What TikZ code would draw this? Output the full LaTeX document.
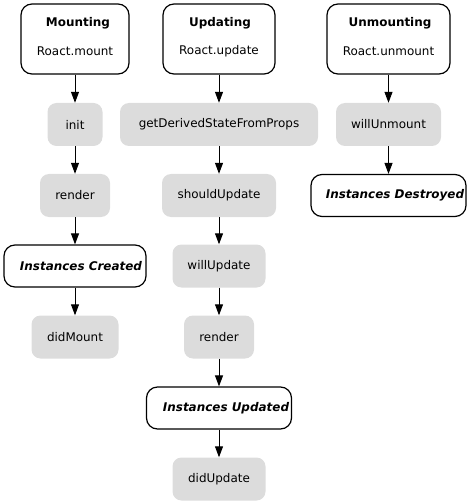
\documentclass[tikz,border=0pt]{standalone}
\usepackage{fontspec}
\setmainfont{DejaVu Sans}
\usetikzlibrary{arrows.meta}
\definecolor{boxgray}{HTML}{DCDCDC}
\tikzset{
  head/.style={draw=black, line width=1.2bp, fill=white, rounded corners=11bp, minimum height=70bp, inner sep=0pt},
  term/.style={draw=black, line width=1.2bp, fill=white, rounded corners=11bp, minimum height=42bp, inner sep=0pt},
  stepbox/.style={fill=boxgray, rounded corners=9bp, minimum height=43bp, inner sep=0pt, font=\fontsize{12}{14}\selectfont},
  titletext/.style={font=\fontsize{12}{14}\selectfont\bfseries, inner sep=0pt},
  subtext/.style={font=\fontsize{12}{14}\selectfont, inner sep=0pt},
  termtext/.style={font=\fontsize{12}{14}\selectfont\bfseries\itshape, inner sep=0pt},
  conn/.style={draw=black, line width=1bp, -{Triangle[length=11bp,width=8bp]}}
}
\begin{document}
\begin{tikzpicture}[x=1bp,y=-1bp]
\useasboundingbox (0,0) rectangle (470,504);
% headers
\node[head, minimum width=108bp] (mount) at (75,39) {};
\node[titletext] (mountt) at (78,23) {Mounting};
\node[subtext] (mounts) at (75,51) {Roact.mount};
\node[head, minimum width=112bp] (update) at (219,39) {};
\node[titletext] (updatet) at (220,23) {Updating};
\node[subtext] (updates) at (219,51) {Roact.update};
\node[head, minimum width=123bp] (unmount) at (388.5,39) {};
\node[titletext] (unmountt) at (390,23) {Unmounting};
\node[subtext] (unmounts) at (388.5,51) {Roact.unmount};
% mounting column
\node[stepbox, minimum width=55bp] (init) at (75,124.5) {init};
\node[stepbox, minimum width=70bp] (render1) at (75,195.5) {render};
\node[term, minimum width=142bp] (created) at (75,266) {};
\node[termtext] (createdt) at (81,266) {Instances Created};
\node[stepbox, minimum width=87bp] (didmount) at (75,337) {didMount};
% updating column
\node[stepbox, minimum width=198bp] (gdsfp) at (219,124.5) {getDerivedStateFromProps};
\node[stepbox, minimum width=114bp] (shouldupdate) at (219,195.5) {shouldUpdate};
\node[stepbox, minimum width=93bp] (willupdate) at (219,266) {willUpdate};
\node[stepbox, minimum width=70bp] (render2) at (219,337) {render};
\node[term, minimum width=145bp] (updated) at (219,408) {};
\node[termtext] (updatedt) at (226,408) {Instances Updated};
\node[stepbox, minimum width=93bp] (didupdate) at (219,479) {didUpdate};
% unmounting column
\node[stepbox, minimum width=105bp] (willunmount) at (388.5,124.5) {willUnmount};
\node[term, minimum width=155bp] (destroyed) at (388.5,195.5) {};
\node[termtext] (destroyedt) at (395,195.5) {Instances Destroyed};
% connectors
\draw[conn] (mount) -- (init);
\draw[conn] (init) -- (render1);
\draw[conn] (render1) -- (created);
\draw[conn] (created) -- (didmount);
\draw[conn] (update) -- (gdsfp);
\draw[conn] (gdsfp) -- (shouldupdate);
\draw[conn] (shouldupdate) -- (willupdate);
\draw[conn] (willupdate) -- (render2);
\draw[conn] (render2) -- (updated);
\draw[conn] (updated) -- (didupdate);
\draw[conn] (unmount) -- (willunmount);
\draw[conn] (willunmount) -- (destroyed);
\end{tikzpicture}
\end{document}
